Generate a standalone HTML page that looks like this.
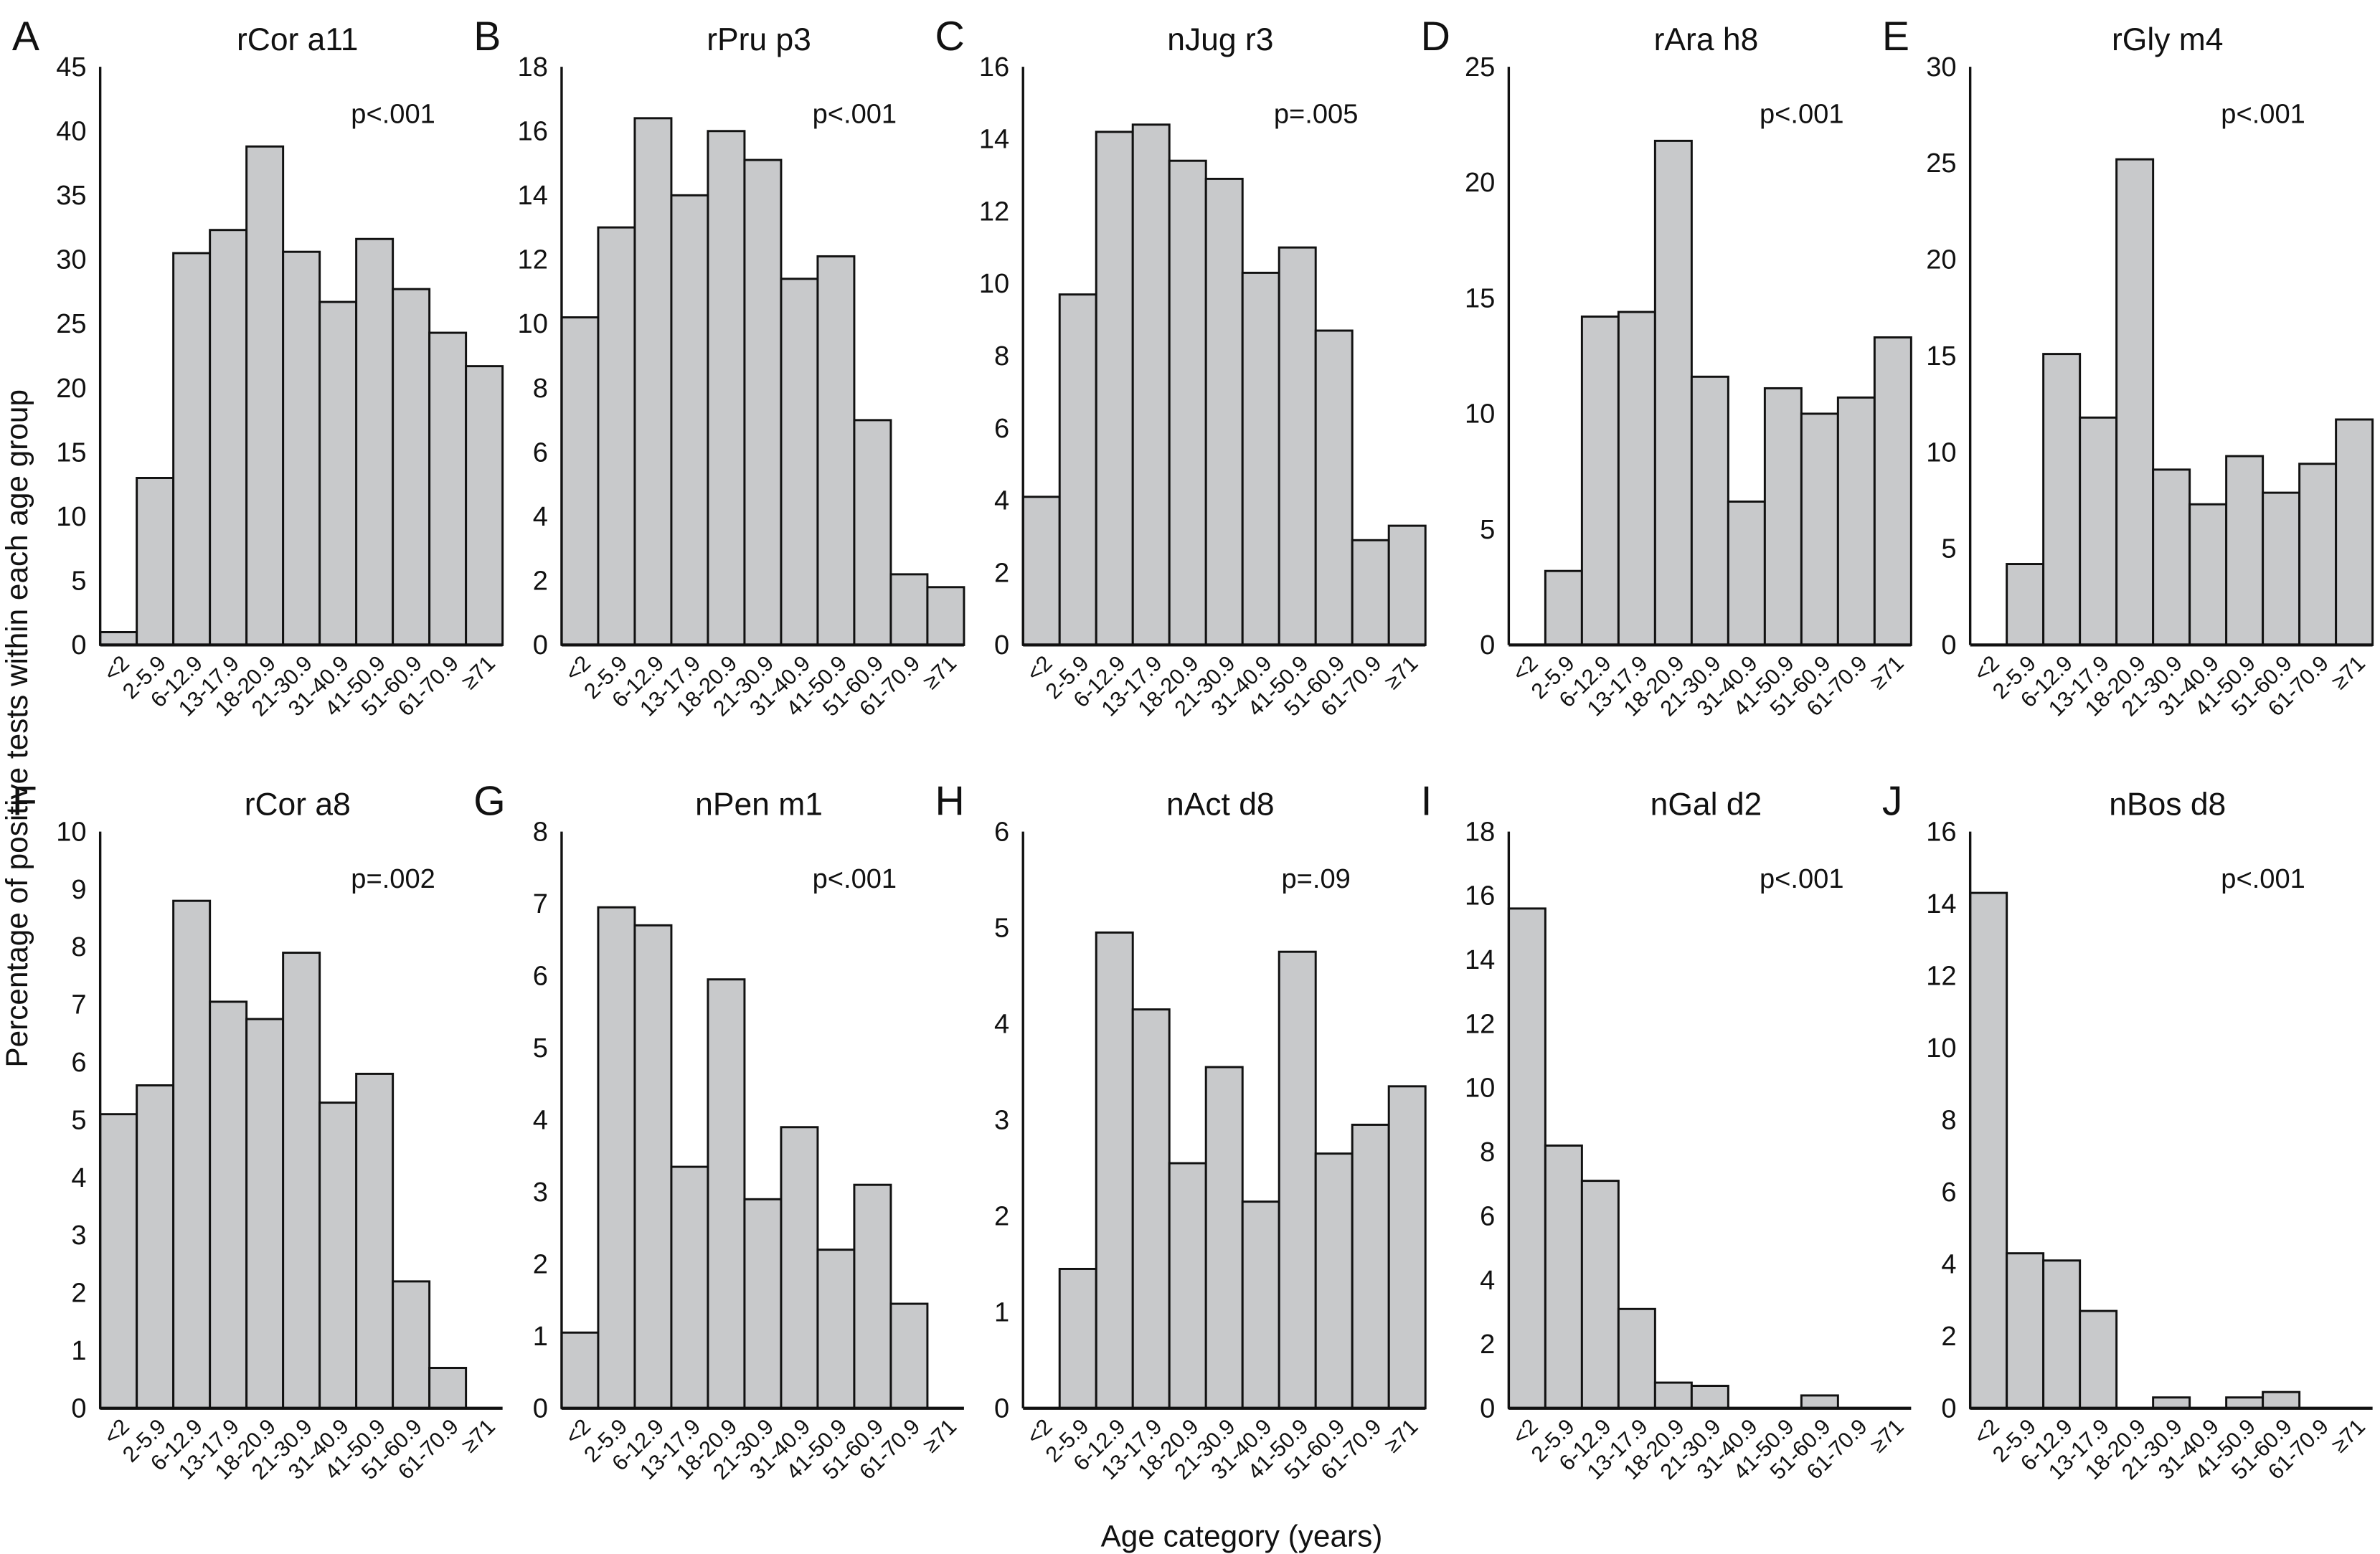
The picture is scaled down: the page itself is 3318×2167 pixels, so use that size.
<!DOCTYPE html>
<html><head><meta charset="utf-8"><style>
html,body{margin:0;padding:0;background:#fff;}
svg{display:block;}
text{font-family:"Liberation Sans",sans-serif;fill:#111;}
</style></head><body>
<svg id="fig" width="3318" height="2167" viewBox="0 0 1568 1024" xmlns="http://www.w3.org/2000/svg">
<text x="0" y="0" font-size="20" text-anchor="middle" transform="translate(18,480) rotate(-90)">Percentage of positive tests within each age group</text>
<text x="818" y="1019" font-size="20" text-anchor="middle">Age category (years)</text>
</svg>
<script>
const categories = ["<2","2-5.9","6-12.9","13-17.9","18-20.9","21-30.9","31-40.9","41-50.9","51-60.9","61-70.9","≥71"];
const letters = ["A","B","C","D","E","F","G","H","I","J"];
const titles = ["rCor a11","rPru p3","nJug r3","rAra h8","rGly m4","rCor a8","nPen m1","nAct d8","nGal d2","nBos d8"];
const pvalues = ["p<.001","p<.001","p=.005","p<.001","p<.001","p=.002","p<.001","p=.09","p<.001","p<.001"];
const yMax = [45,18,16,25,30,10,8,6,18,16];
const yStep = [5,2,2,5,5,1,1,1,2,2];
const valsA = [1,13,30.5,32.3,38.8,30.6,26.7,31.6,27.7,24.3,21.7];
const valsB = [10.2,13,16.4,14,16,15.1,11.4,12.1,7,2.2,1.8];
const valsC = [4.1,9.7,14.2,14.4,13.4,12.9,10.3,11,8.7,2.9,3.3];
const valsD = [0,3.2,14.2,14.4,21.8,11.6,6.2,11.1,10,10.7,13.3];
const valsE = [0,4.2,15.1,11.8,25.2,9.1,7.3,9.8,7.9,9.4,11.7];
const valsF = [5.1,5.6,8.8,7.05,6.75,7.9,5.3,5.8,2.2,0.7,0];
const valsG = [1.05,6.95,6.7,3.35,5.95,2.9,3.9,2.2,3.1,1.45,0];
const valsH = [0,1.45,4.95,4.15,2.55,3.55,2.15,4.75,2.65,2.95,3.35];
const valsI = [15.6,8.2,7.1,3.1,0.8,0.7,0,0,0.4,0,0];
const valsJ = [14.3,4.3,4.1,2.7,0,0.3,0,0.3,0.45,0,0];
const series = [valsA,valsB,valsC,valsD,valsE,valsF,valsG,valsH,valsI,valsJ];

const NS="http://www.w3.org/2000/svg";
const svg=document.getElementById('fig');
const axisX=[66,370,674,994,1298];
const rowTop=[44,548], rowZero=[425,928];
const BW=24.1;
function mk(tag,attrs,parent){const e=document.createElementNS(NS,tag);for(const k in attrs)e.setAttribute(k,attrs[k]);(parent||svg).appendChild(e);return e;}
series.forEach((vals,p)=>{
  const row=p<5?0:1, col=p%5;
  const x0=axisX[col], top=rowTop[row], zero=rowZero[row];
  const g=mk('g',{});
  
  
  const ys=v=>zero-(v/yMax[p])*(zero-top);
  const xs=i=>x0+i*BW;
  const L=mk('text',{x:x0-58,y:top-11,'font-size':27},g);L.textContent=letters[p];
  
  
  const T=mk('text',{x:x0+130,y:top-11,'font-size':21,'text-anchor':'middle'},g);T.textContent=titles[p];
  
  
  const P=mk('text',{x:x0+193,y:top+37,'font-size':18,'text-anchor':'middle'},g);P.textContent=pvalues[p];
  
  
  for(let v=0;v<=yMax[p]+1e-9;v+=yStep[p]){
    const t=mk('text',{x:x0-9,y:ys(v)+6,'font-size':18,'text-anchor':'end'},g);t.textContent=String(v);
    
    
  }
  vals.forEach((v,i)=>{
    if(v>0){
      const r=mk('rect',{x:xs(i),y:ys(v),width:BW,height:zero-ys(v),fill:'#c8c9cb',stroke:'#111','stroke-width':1.4},g);
      
      
    }
    const lx=xs(i)+BW/2+8, ly=zero+13;
    const t=mk('text',{x:lx,y:ly,'font-size':14.5,'text-anchor':'end',transform:`rotate(-45 ${lx} ${ly})`},g);
    t.textContent=categories[i];
    
    
  });
  const ax=mk('line',{x1:x0,y1:top,x2:x0,y2:zero,stroke:'#111','stroke-width':1.6},g);
  
  
  const bx=mk('line',{x1:x0,y1:zero,x2:xs(categories.length),y2:zero,stroke:'#111','stroke-width':2},g);
  
  
});
</script>
</body></html>
